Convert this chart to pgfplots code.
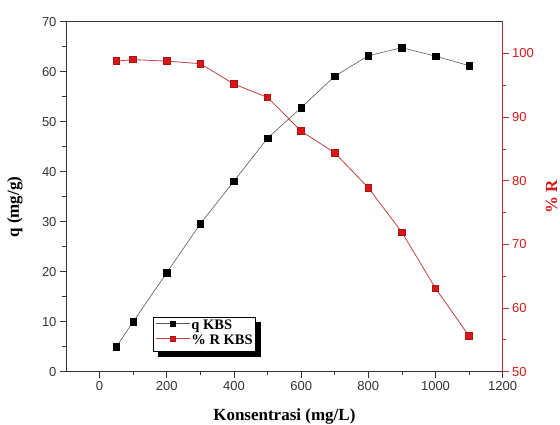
\documentclass[border=0pt]{standalone}
\usepackage{fontspec}
\setmainfont{Liberation Serif}
\newfontfamily\arial{Liberation Sans}
\usepackage{pgfplots}
\pgfplotsset{compat=1.18}
\usetikzlibrary{backgrounds}
\definecolor{rred}{HTML}{D81818}
\definecolor{raxis}{HTML}{B03030}
\definecolor{rline}{HTML}{C04040}
\definecolor{ticktxt}{HTML}{333333}

\pgfplotstableread{
x q
50 5.0
100 10.0
200 19.8
300 29.6
400 38.1
500 46.7
600 52.8
700 59.1
800 63.2
900 64.8
1000 63.1
1100 61.2
}\qdata
\pgfplotstableread{
x r
50 98.8
100 99.05
200 98.8
300 98.4
400 95.2
500 93.1
600 87.8
700 84.4
800 78.9
900 71.9
1000 63.1
1100 55.6
}\rdata

\begin{document}
\begin{tikzpicture}[x=1pt,y=1pt]
\path[use as bounding box] (-66,-53.3) rectangle (494,371.7);
\pgfplotsset{
  common/.style={
    at={(0,0)}, anchor=south west,
    scale only axis, width=436.7pt, height=350pt,
    xmin=-100, xmax=1200,
    tick align=outside,
    major tick length=6pt, minor tick length=3.5pt,
    /pgf/number format/assume math mode=true,
    /pgf/number format/set thousands separator={},
    tick label style={font=\arial\fontsize{13}{13}\selectfont},
    label style={font=\bfseries\fontsize{17}{17}\selectfont},
  }
}
\begin{axis}[common,
  ymin=0, ymax=70,
  xtick={0,200,...,1200}, minor xtick={100,300,...,1100},
  ytick={0,10,...,70}, minor ytick={5,15,...,65},
  xtick pos=left, ytick pos=left,
  axis line style={black!80, line width=0.8pt},
  tick style={black!80, line width=0.8pt},
  ticklabel style={ticktxt},
  xlabel={Konsentrasi (mg/L)},
  ylabel={q (mg/g)},
  xlabel style={at={(axis description cs:0.5,-0.128)}, anchor=center},
  ylabel style={at={(axis description cs:-0.117,0.47)}, anchor=center},
  legend style={name=lgd, at={(0.2001,0.157)}, anchor=north west, draw=black, fill=white,
    font=\bfseries\fontsize{14.5}{14.5}\selectfont,
    inner xsep=2pt, inner ysep=2.5pt, row sep=0.5pt,
    nodes={inner sep=1pt, text depth=3pt, text height=9.5pt},
    /tikz/column 2/.style={column sep=4pt}},
  legend cell align=left,
  legend image code/.code={\draw[mark repeat=2,mark phase=2, mark size=2.6pt] plot coordinates {(0pt,3pt) (17pt,3pt) (34pt,3pt)};},
]
\addplot[black!65, line width=0.6pt, mark=square*, mark size=3.3pt,
  mark options={solid, fill=black, draw=black}] table[x=x,y=q] {\qdata};
\addlegendentry{q KBS}
\addlegendimage{rline, line width=0.8pt, mark=square*, mark size=3.3pt, mark options={solid, fill=rred, draw=rred!80!black}}
\addlegendentry{\% R KBS}
\end{axis}
\begin{axis}[common,
  ymin=50, ymax=105,
  axis x line=none, axis y line*=right,
  ytick={50,60,...,100}, minor ytick={55,65,...,95},
  y axis line style={raxis, line width=0.8pt},
  ytick style={raxis, line width=0.8pt},
  yticklabel style={rred},
  ylabel={\% R},
  ylabel style={rred, at={(axis description cs:1.112,0.5)}, anchor=center},
]
\addplot[rline, line width=0.8pt, mark=square*, mark size=3.3pt,
  mark options={solid, fill=rred, draw=rred!80!black}] table[x=x,y=r] {\rdata};
\end{axis}
\begin{scope}[on background layer]
\fill[black] ([shift={(5pt,-5pt)}]lgd.south west) rectangle ([shift={(5pt,-5pt)}]lgd.north east);
\end{scope}
\end{tikzpicture}
\end{document}
